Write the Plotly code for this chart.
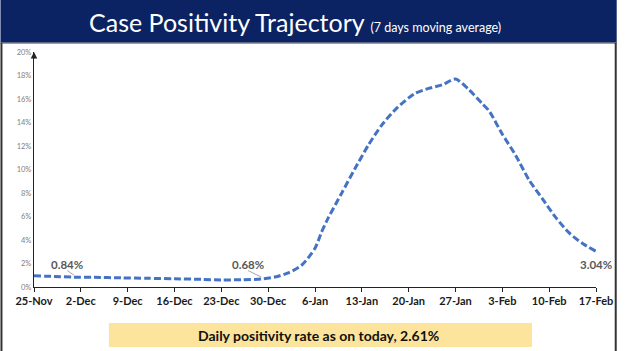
import plotly.graph_objects as go

# ---- data (7-day moving average case positivity, %) ----
dates = ["2021-11-25", "2021-11-28", "2021-12-01", "2021-12-04", "2021-12-08",
         "2021-12-12", "2021-12-16", "2021-12-20", "2021-12-23", "2021-12-26",
         "2021-12-29", "2021-12-31", "2022-01-02", "2022-01-04", "2022-01-06",
         "2022-01-07", "2022-01-08", "2022-01-10", "2022-01-12", "2022-01-14",
         "2022-01-16", "2022-01-18", "2022-01-20", "2022-01-21", "2022-01-23",
         "2022-01-25", "2022-01-27", "2022-01-29", "2022-01-31", "2022-02-01",
         "2022-02-03", "2022-02-05", "2022-02-07", "2022-02-09", "2022-02-11",
         "2022-02-13", "2022-02-15", "2022-02-17"]
positivity = [0.95, 0.90, 0.84, 0.82, 0.78,
              0.74, 0.70, 0.65, 0.60, 0.62,
              0.68, 0.85, 1.20, 1.85, 3.30,
              4.70, 5.90, 8.00, 10.10, 12.10,
              13.80, 15.10, 16.10, 16.50, 16.90,
              17.20, 17.70, 16.80, 15.60, 15.00,
              13.00, 11.20, 9.10, 7.50, 5.90,
              4.60, 3.70, 3.04]

tick_dates = ["2021-11-25", "2021-12-02", "2021-12-09", "2021-12-16", "2021-12-23",
              "2021-12-30", "2022-01-06", "2022-01-13", "2022-01-20", "2022-01-27",
              "2022-02-03", "2022-02-10", "2022-02-17"]
tick_text = ["25-Nov", "2-Dec", "9-Dec", "16-Dec", "23-Dec", "30-Dec", "6-Jan",
             "13-Jan", "20-Jan", "27-Jan", "3-Feb", "10-Feb", "17-Feb"]
y_ticks = [0, 2, 4, 6, 8, 10, 12, 14, 16, 18, 20]
y_tick_text = [f"{v}%" for v in y_ticks]

point_labels = [("2021-11-30", "0.84%", "2021-12-01", 0.84),
                ("2021-12-27", "0.68%", "2021-12-29", 0.68),
                ("2022-02-17", "3.04%", None, None)]

title_main = "Case Positivity Trajectory"
title_sub = "(7 days moving average)"
footer_text = "Daily positivity rate as on today, 2.61%"

# ---- layout geometry ----
W, H = 625, 351
L, R, T, B = 34, 21, 52, 64
plot_h = H - T - B
plot_w = W - L - R


def py(p):
    return (H - B - p) / plot_h


def px(p):
    return (p - L) / plot_w


fig = go.Figure()
fig.add_trace(go.Scatter(
    x=dates, y=positivity, mode="lines",
    line=dict(color="#4472C4", width=3, dash="7px,3px", shape="spline", smoothing=0.7),
    hoverinfo="skip", showlegend=False,
))

shapes = [
    # header band
    dict(type="rect", xref="paper", yref="paper", x0=px(0), x1=px(W), y0=py(43), y1=py(0),
         fillcolor="#0b2362", line=dict(width=0), layer="below"),
    dict(type="line", xref="paper", yref="paper", x0=px(0), x1=px(W), y0=py(43), y1=py(43),
         line=dict(color="#7a7f8c", width=1.5)),
    # frame
    dict(type="line", xref="paper", yref="paper", x0=px(1), x1=px(1), y0=py(43), y1=py(H),
         line=dict(color="#333333", width=2)),
    dict(type="line", xref="paper", yref="paper", x0=px(W - 1), x1=px(W - 1), y0=py(43), y1=py(H),
         line=dict(color="#333333", width=2)),
    # footer box
    dict(type="rect", xref="paper", yref="paper", x0=px(110), x1=px(539), y0=py(347), y1=py(323),
         fillcolor="#FDE49C", line=dict(width=0)),
]

annotations = [
    dict(xref="paper", yref="paper", x=px(299), y=py(22), showarrow=False,
         text=f"{title_main} <span style='font-size:12.5px'>{title_sub}</span>",
         font=dict(family="Lato", size=25, color="white"), xanchor="center", yanchor="middle"),
    dict(xref="paper", yref="paper", x=px(323), y=py(335), showarrow=False,
         text=f"<b>{footer_text}</b>",
         font=dict(family="Lato", size=14, color="#111111"), xanchor="center", yanchor="middle"),
    # y-axis arrow head
    dict(xref="paper", yref="paper", x=0, y=1, ax=0, ay=8, axref="pixel", ayref="pixel",
         showarrow=True, arrowhead=2, arrowsize=1, arrowwidth=1.3, arrowcolor="#222222", text=""),
]

for lx, txt, tx, tv in point_labels:
    annotations.append(dict(
        x=lx, y=1.9, xref="x", yref="y", showarrow=False, text=f"<b>{txt}</b>",
        font=dict(family="Lato", size=11.5, color="#595959"), xanchor="center", yanchor="middle"))
    if tx is not None:
        shapes.append(dict(type="line", xref="x", yref="y", x0=lx, y0=1.4, x1=tx, y1=tv + 0.15,
                           line=dict(color="#a6a6a6", width=1)))

fig.update_layout(
    width=W, height=H,
    margin=dict(l=L, r=R, t=T, b=B),
    paper_bgcolor="white", plot_bgcolor="white",
    shapes=shapes, annotations=annotations,
    xaxis=dict(
        range=["2021-11-25", "2022-02-17"], tickvals=tick_dates, ticktext=tick_text,
        showgrid=False, zeroline=False, showline=True, linecolor="#222222", linewidth=1.3,
        ticks="outside", ticklen=4, tickcolor="#222222",
        tickfont=dict(family="Lato", size=11, color="#1a1a1a", weight="bold"),
    ),
    yaxis=dict(
        range=[0, 20], tickvals=y_ticks, ticktext=y_tick_text,
        showgrid=False, zeroline=False, showline=True, linecolor="#222222", linewidth=1.3,
        ticks="", tickfont=dict(family="Lato", size=7.5, color="#808080"),
    ),
)

fig.write_html("out.html")
